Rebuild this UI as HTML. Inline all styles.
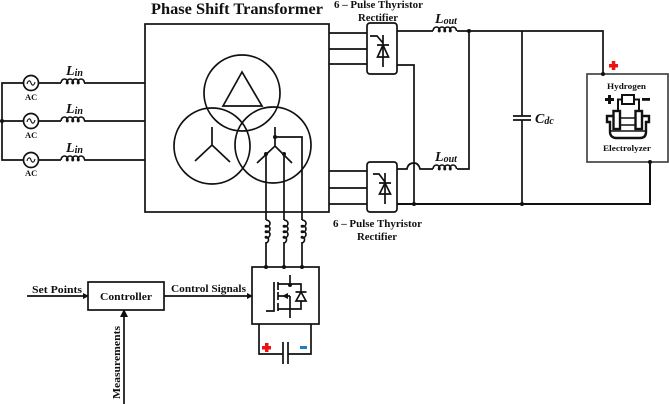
<!DOCTYPE html>
<html><head><meta charset="utf-8"><style>
html,body{margin:0;padding:0;background:#fff;width:669px;height:404px;overflow:hidden}
svg{display:block;filter:blur(.3px)}
text{font-family:"Liberation Serif",serif;font-weight:bold;fill:#111}
.i{font-style:italic;fill:#111}
</style></head><body>
<svg width="669" height="404" viewBox="0 0 669 404" xmlns="http://www.w3.org/2000/svg">
<defs>
<path id="lh" d="M0 0a3.500 4 0 0 1 7 0a.8 1 0 0 1-1.500 0a3.500 4 0 0 1 7 0a.8 1 0 0 1-1.500 0a3.500 4 0 0 1 7 0a.8 1 0 0 1-1.500 0a3.500 4 0 0 1 7 0" fill="none" stroke="#111" stroke-width="1.600"/>
<path id="lv" d="M0 0a4 3.500 0 0 1 0 7a1 .8 0 0 1 0-1.500a4 3.500 0 0 1 0 7a1 .8 0 0 1 0-1.500a4 3.500 0 0 1 0 7a1 .8 0 0 1 0-1.500a4 3.500 0 0 1 0 6.500" fill="none" stroke="#111" stroke-width="1.600"/>
</defs>
<g fill="none" stroke="#111" stroke-width="1.700">
<!-- Transformer -->
<rect x="145" y="24" width="184" height="188"/>
<circle cx="242" cy="93" r="38"/><circle cx="212" cy="146" r="38"/><circle cx="273" cy="145" r="38"/>
<path d="M242 72L223 106H262Z"/>
<path d="M212 127V145M195 161L212 145L230 162"/>
<path d="M275 127V146M257 163L275 146L292 163"/>
<path d="M275 137H302V220M266 154V220M284 154V220"/>
<path d="M266 242V267M284 242V267M302 242V267"/>
<!-- AC side -->
<path d="M38 83H61M84 83H145M38 121H61M84 121H145M38 160H61M84 160H145"/>
<path d="M24 83H2V160H24M2 121H24"/>
<circle cx="31" cy="83" r="7.500"/><circle cx="31" cy="121" r="7.500"/><circle cx="31" cy="160" r="7.500"/>
<path d="M27 84c1-4 3-4 4-1s3 3 4-1M27 122c1-4 3-4 4-1s3 3 4-1M27 161c1-4 3-4 4-1s3 3 4-1" stroke-width="1.100"/>
<!-- Rectifiers -->
<rect x="367" y="23" width="30" height="51" rx="3"/>
<rect x="367" y="162" width="30" height="50" rx="3"/>
<path d="M329 33H367M329 49H367M329 64H367M329 171H367M329 188H367M329 204H367"/>
<path d="M397 31H433M457 31H469"/>
<path d="M397 65H414V204"/>
<path d="M397 169H407C408 163 413 163 414 163C417 163 419 165 420 169H433M457 169H469V31"/>
<!-- DC bus -->
<path d="M469 31H603V74M522 31V116M522 120V204"/>
<path d="M397 204H650V162" stroke-width="2"/>
<path d="M513 116H531M513 120H531"/>
<!-- Thyristor symbols -->
<path d="M383 35V67M377 45H389M370 36H377L383 43"/>
<path d="M383 45L377.500 57H388.500Z"/>
<path d="M385 173V204M379 183H391M373 174H379L385 182"/>
<path d="M385 183L379.500 194H390.500Z"/>
<!-- Electrolyzer -->
<rect x="587" y="74" width="81" height="88" stroke="#444"/>
<!-- Converter -->
<rect x="252" y="267" width="67" height="57"/>
<path d="M259 324V354H283M288 354H311V324"/>
<path d="M283 342V364M288 342V364"/>
<path d="M274 282V311H266M278 282V290M278 292V300M278 303V311" />
<path d="M278 284H301V292M278 309H301V301M290 275V285M290 296V318M278 296H290"/>
<path d="M296 301H306L301 292ZM295.500 292H306.500"/>
<!-- Controller -->
<rect x="88" y="282" width="76" height="28"/>
<path d="M27 296H84M164 296H248M124 404V316"/>
</g>
<use href="#lh" x="61" y="83"/><use href="#lh" x="61" y="121"/><use href="#lh" x="61" y="160"/>
<use href="#lh" x="433" y="31"/><use href="#lh" x="433" y="169"/>
<use href="#lv" x="266" y="220"/><use href="#lv" x="284" y="220"/><use href="#lv" x="302" y="220"/>
<g fill="#111">
<circle cx="2" cy="121" r="2"/><circle cx="275" cy="137" r="2"/><circle cx="266" cy="154" r="2"/><circle cx="284" cy="154" r="2"/>
<circle cx="469" cy="31" r="2"/><circle cx="414" cy="204" r="2"/><circle cx="522" cy="204" r="2"/>
<circle cx="603" cy="74" r="2"/><circle cx="650" cy="162" r="2"/>
<circle cx="266" cy="267" r="2"/><circle cx="284" cy="267" r="2"/><circle cx="302" cy="267" r="2"/>
<circle cx="290" cy="285" r="2"/>
<path d="M282 296L288 293V299Z"/>
<path d="M83 293L89 296L83 299ZM247 293L253 296L247 299ZM120 317L124 309L128 317Z"/>
</g>
<rect x="262" y="346" width="9" height="3.500" fill="#e11"/><rect x="265" y="343" width="3.500" height="9" fill="#e11"/>
<rect x="300" y="346" width="7" height="3" fill="#1a7fc4"/>
<rect x="609" y="64" width="9" height="3.500" fill="#e11"/><rect x="611.800" y="61" width="3.500" height="9" fill="#e11"/>
<!-- Electrolyzer icon -->
<g fill="none" stroke="#111">
<rect x="622" y="95" width="12" height="9" stroke-width="2"/>
<path d="M622 99.500H618V111M634 99.500H639V111" stroke-width="2"/>
<rect x="613.500" y="111" width="6.500" height="18" stroke-width="2.400"/>
<rect x="635.500" y="111" width="6.500" height="18" stroke-width="2.400"/>
<path d="M613 116H607V122H610V132C610 136 613 138 616 138H640C644 138 646 136 646 132V122H649V116H642" stroke-width="2.400"/>
<path d="M620 118H635M620 125H635M610 131H646" stroke-width="1.600"/>
</g>
<g fill="#111">
<rect x="605" y="98" width="9" height="3"/><rect x="608" y="95" width="3" height="9"/>
<rect x="642" y="98" width="8" height="2.800"/>
</g>
<!-- Text -->
<text x="151" y="14" font-size="15.500" textLength="172" lengthAdjust="spacingAndGlyphs">Phase Shift Transformer</text>
<text x="334" y="8" font-size="10" textLength="89" lengthAdjust="spacingAndGlyphs">6 – Pulse Thyristor</text>
<text x="358" y="21" font-size="10" textLength="40" lengthAdjust="spacingAndGlyphs">Rectifier</text>
<text x="333" y="227" font-size="10" textLength="89" lengthAdjust="spacingAndGlyphs">6 – Pulse Thyristor</text>
<text x="357" y="240" font-size="10" textLength="40" lengthAdjust="spacingAndGlyphs">Rectifier</text>
<text x="25" y="100" font-size="8.500">AC</text><text x="25" y="138" font-size="8.500">AC</text><text x="25" y="176" font-size="8.500">AC</text>
<text class="i" x="66" y="75" font-size="14">L<tspan font-size="10" dy="1">in</tspan></text>
<text class="i" x="66" y="113" font-size="14">L<tspan font-size="10" dy="1">in</tspan></text>
<text class="i" x="66" y="152" font-size="14">L<tspan font-size="10" dy="1">in</tspan></text>
<text class="i" x="435" y="23" font-size="14">L<tspan font-size="10" dy="1">out</tspan></text>
<text class="i" x="435" y="161" font-size="14">L<tspan font-size="10" dy="1">out</tspan></text>
<text class="i" x="535" y="123" font-size="14">C<tspan font-size="10" dy="1">dc</tspan></text>
<text x="607" y="89" font-size="8.500" textLength="39" lengthAdjust="spacingAndGlyphs">Hydrogen</text>
<text x="603" y="151" font-size="8.500" textLength="48" lengthAdjust="spacingAndGlyphs">Electrolyzer</text>
<text x="32" y="293" font-size="10.500" textLength="50" lengthAdjust="spacingAndGlyphs">Set Points</text>
<text x="100" y="300" font-size="11" textLength="52" lengthAdjust="spacingAndGlyphs">Controller</text>
<text x="171" y="292" font-size="10.500" textLength="75" lengthAdjust="spacingAndGlyphs">Control Signals</text>
<text transform="translate(120,399) rotate(-90)" font-size="10.500" textLength="73" lengthAdjust="spacingAndGlyphs">Measurements</text>
</svg>
</body></html>
